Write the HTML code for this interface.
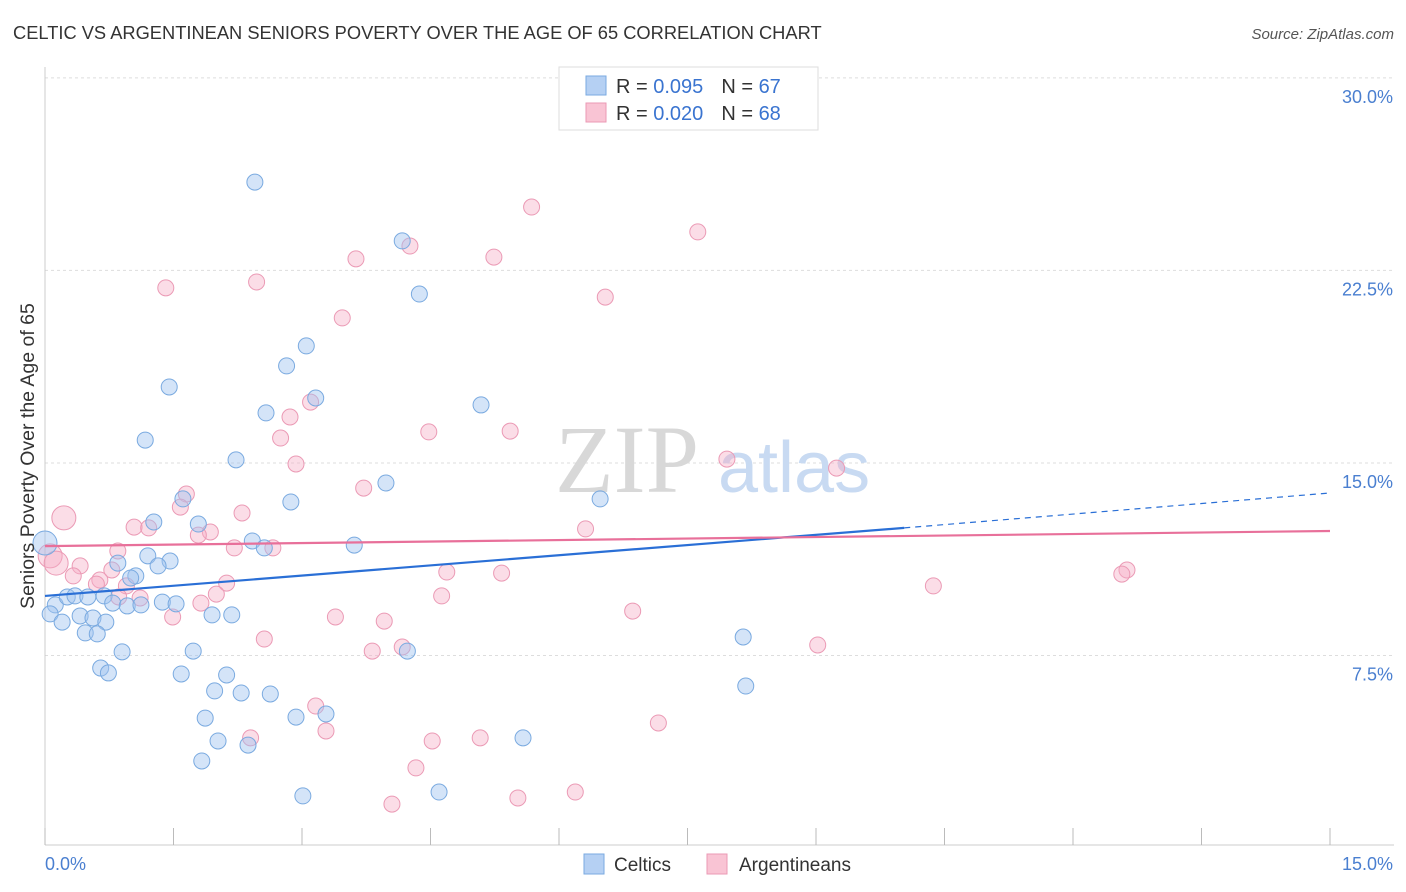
<!DOCTYPE html>
<html><head><meta charset="utf-8"><style>
body{margin:0;background:#fff;font-family:"Liberation Sans",sans-serif;}
#wrap{position:relative;width:1406px;height:892px;overflow:hidden}
</style></head><body>
<div id="wrap">
<svg id="chart" width="1406" height="892" xmlns="http://www.w3.org/2000/svg">
<text x="13" y="39" font-size="18.3" fill="#333">CELTIC VS ARGENTINEAN SENIORS POVERTY OVER THE AGE OF 65 CORRELATION CHART</text>
<text x="1394" y="39" font-size="15" fill="#555" font-style="italic" text-anchor="end">Source: ZipAtlas.com</text>
<g id="grid"></g>
<text x="555" y="492" font-size="96" fill="#d8d8d8" font-family="Liberation Serif,serif">ZIP</text>
<text x="718" y="492" font-size="72" fill="#c8daf2">atlas</text>
<g id="axes"></g>
<g id="pts"></g>
<g id="lines"></g>
<g>
<rect x="559" y="67" width="259" height="63" fill="#fff" stroke="#ddd"/>
<rect x="586" y="76" width="20" height="19" fill="#b5d0f3" stroke="#7aaae0"/>
<rect x="586" y="103" width="20" height="19" fill="#f9c4d4" stroke="#eb9ab5"/>
<text x="616" y="93" font-size="20" fill="#333">R = <tspan fill="#3a74d0">0.095</tspan><tspan dx="18">N = </tspan><tspan fill="#3a74d0">67</tspan></text>
<text x="616" y="120" font-size="20" fill="#333">R = <tspan fill="#3a74d0">0.020</tspan><tspan dx="18">N = </tspan><tspan fill="#3a74d0">68</tspan></text>
</g>
<text transform="translate(34,456) rotate(-90)" font-size="19.5" fill="#333" text-anchor="middle">Seniors Poverty Over the Age of 65</text>
<g>
<rect x="584" y="854" width="20" height="20" fill="#b5d0f3" stroke="#7aaae0"/>
<text x="614" y="871" font-size="19" fill="#333">Celtics</text>
<rect x="707" y="854" width="20" height="20" fill="#f9c4d4" stroke="#eb9ab5"/>
<text x="739" y="871" font-size="19" fill="#333">Argentineans</text>
</g>
</svg>
</div>
<script>
const xTicks=[0,1.5,3,4.5,6,7.5,9,10.5,12,13.5,15];
const yTicks=[7.5,15,22.5,30];
const yTickLabels=["7.5%","15.0%","22.5%","30.0%"];
const xEndLabels=["0.0%","15.0%"];
const celticsX=[2.45,4.17,4.37,3.05,2.82,1.45,3.16,5.09,2.58,1.17,2.23,3.98,1.61,2.87,6.48,1.27,1.79,2.42,2.56,3.61,1.2,1.46,0.85,1.32,1.06,1.0,0.12,0.26,0.35,0.5,0.69,0.79,0.96,1.12,1.37,1.53,1.95,2.18,0.06,0.2,0.41,0.56,0.71,0.47,0.61,0.9,1.73,8.15,0.65,0.74,1.59,2.12,1.98,2.29,2.63,8.18,1.87,2.93,3.28,2.02,2.37,5.58,1.83,3.01,4.6,4.23,0];
const celticsY=[25.94,23.65,21.58,19.56,18.78,17.96,17.53,17.26,16.95,15.89,15.12,14.22,13.6,13.48,13.6,12.7,12.62,11.96,11.69,11.8,11.38,11.18,11.1,10.99,10.6,10.52,9.47,9.78,9.82,9.78,9.82,9.54,9.43,9.47,9.58,9.51,9.08,9.08,9.12,8.8,9.04,8.96,8.8,8.38,8.34,7.64,7.67,8.22,7.01,6.82,6.78,6.74,6.12,6.04,6.0,6.31,5.06,5.1,5.22,4.17,4.01,4.29,3.39,2.03,2.18,7.67,11.88];
const argX=[5.68,7.62,4.26,5.24,3.63,1.41,2.47,6.54,3.47,3.1,2.86,4.48,5.43,2.75,7.96,9.24,2.93,3.72,1.65,1.58,2.3,0.22,1.04,1.21,6.31,1.93,1.79,2.21,2.66,0.85,0.06,0.13,0.41,0.78,4.69,5.33,12.63,12.57,0.33,0.64,0.6,0.95,2.12,2.0,1.11,0.86,4.63,1.82,10.37,1.49,3.39,3.96,6.86,2.56,4.17,3.82,9.02,3.16,3.28,7.16,2.4,4.52,5.08,4.33,6.19,5.52,4.05];
const argY=[24.97,24.0,23.45,23.02,22.95,21.82,22.05,21.46,20.65,17.37,16.79,16.21,16.24,15.97,15.15,14.8,14.96,14.02,13.79,13.28,13.05,12.86,12.5,12.47,12.43,12.31,12.19,11.69,11.69,11.57,11.38,11.1,10.99,10.83,10.75,10.71,10.83,10.67,10.6,10.44,10.28,10.21,10.32,9.89,9.74,9.78,9.82,9.54,10.21,9.0,9.0,8.84,9.23,8.14,7.83,7.67,7.91,5.53,4.56,4.87,4.29,4.17,4.29,3.12,2.18,1.95,1.71];
const celticsBig=[66];
const argBig=[21,30,31];
const blueTrend=[[0,9.82],[10.03,12.47],[15,13.83]];
const pinkTrend=[[0,11.76],[15,12.35]];

const NS="http://www.w3.org/2000/svg";
const X=v=>45+v/15*1285;
const Y=v=>848-v*25.67;
function mk(tag,attrs,parent){const e=document.createElementNS(NS,tag);for(const k in attrs)e.setAttribute(k,attrs[k]);parent.appendChild(e);return e;}
const grid=document.getElementById('grid'),axes=document.getElementById('axes'),pts=document.getElementById('pts'),lines=document.getElementById('lines');
yTicks.forEach((t,i)=>{
 const l=mk('line',{x1:45,x2:1394,y1:Y(t),y2:Y(t),stroke:'#ddd','stroke-dasharray':'3,3'},grid);
 
 
 const tx=mk('text',{x:1393,y:Y(t)+25,'font-size':18,fill:'#4a7fd0','text-anchor':'end'},axes);
 tx.textContent=yTickLabels[i];
 
 
});
let a=mk('line',{x1:45,x2:45,y1:67,y2:845,stroke:'#ccc'},axes);


a=mk('line',{x1:45,x2:1394,y1:845,y2:845,stroke:'#ccc'},axes);


xTicks.forEach(t=>{
 const l=mk('line',{x1:X(t),x2:X(t),y1:828,y2:845,stroke:'#bbb'},axes);
 
 
});
let t1=mk('text',{x:45,y:870,'font-size':18,fill:'#4a7fd0'},axes);t1.textContent=xEndLabels[0];


let t2=mk('text',{x:1393,y:870,'font-size':18,fill:'#4a7fd0','text-anchor':'end'},axes);t2.textContent=xEndLabels[1];


function drawPts(xs,ys,big,fill,stroke,name){
 xs.forEach((v,i)=>{
  const c=mk('circle',{cx:X(v),cy:Y(ys[i]),r:big.includes(i)?12:8,fill:fill,stroke:stroke,'stroke-width':1},pts);
  
  
 });
}
drawPts(argX,argY,argBig,'rgba(245,175,198,0.42)','#eb9ab5','point-argentineans');
drawPts(celticsX,celticsY,celticsBig,'rgba(160,196,240,0.45)','#7aaae0','point-celtics');
let bl=mk('line',{x1:X(blueTrend[0][0]),y1:Y(blueTrend[0][1]),x2:X(blueTrend[1][0]),y2:Y(blueTrend[1][1]),stroke:'#2a6fd6','stroke-width':2.2},lines);


let bd=mk('line',{x1:X(blueTrend[1][0]),y1:Y(blueTrend[1][1]),x2:X(blueTrend[2][0]),y2:Y(blueTrend[2][1]),stroke:'#2a6fd6','stroke-width':1.2,'stroke-dasharray':'6,5'},lines);


let pl=mk('line',{x1:X(pinkTrend[0][0]),y1:Y(pinkTrend[0][1]),x2:X(pinkTrend[1][0]),y2:Y(pinkTrend[1][1]),stroke:'#e8709a','stroke-width':2.2},lines);


</script>
</body></html>
